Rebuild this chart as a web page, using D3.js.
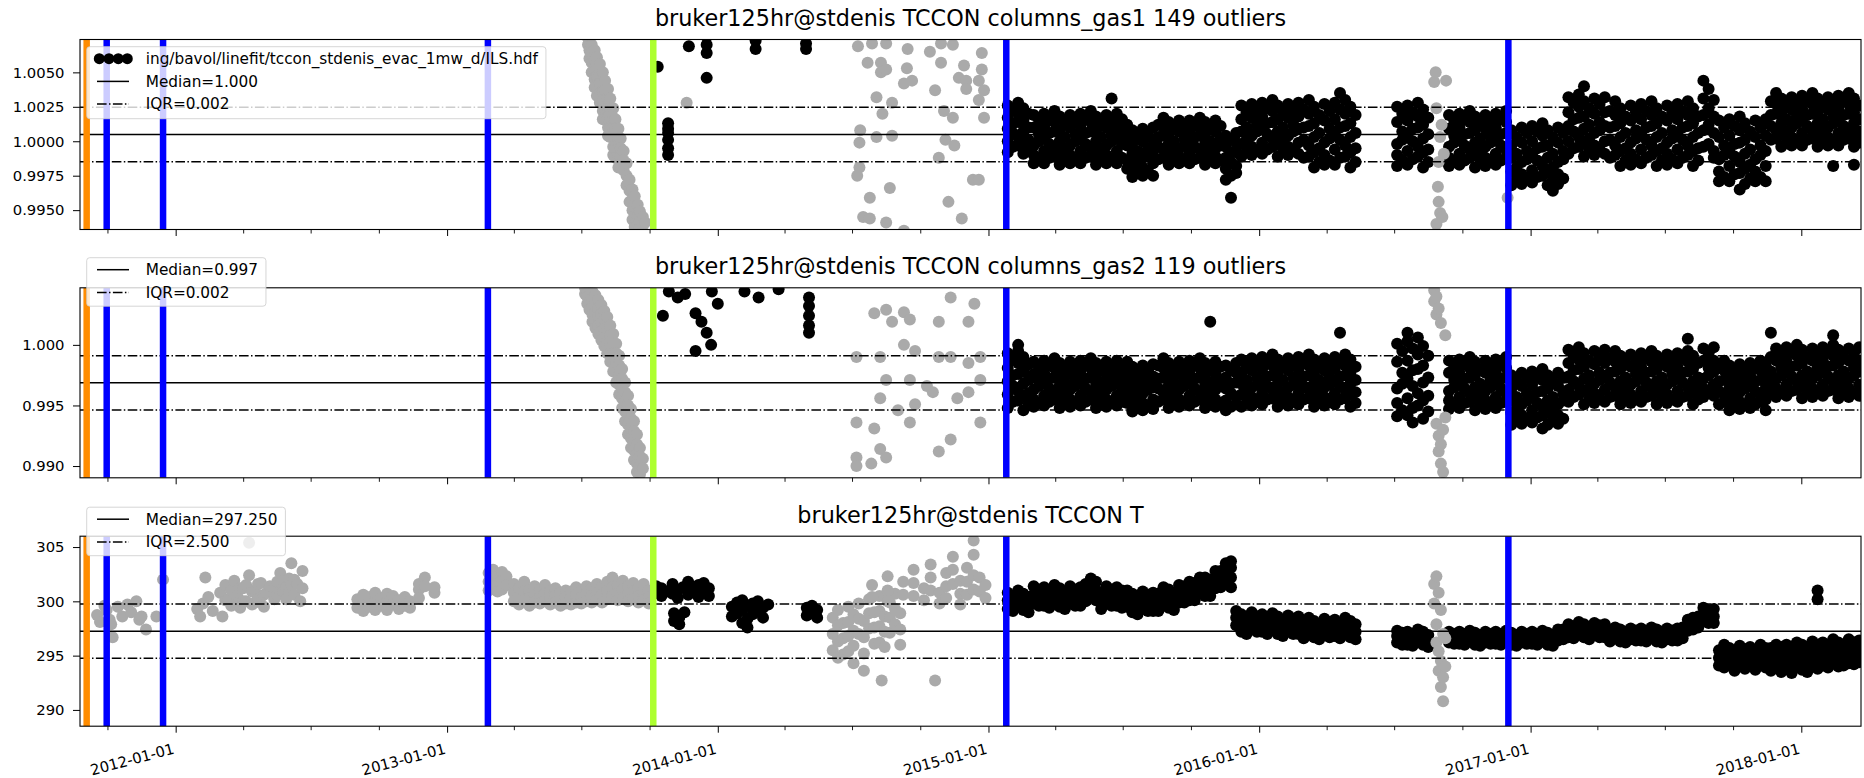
<!DOCTYPE html>
<html>
<head>
<meta charset="utf-8">
<script src="https://cdn.jsdelivr.net/npm/d3@7"></script>
<style>
  body { margin: 0; background: #fff; }
  svg { display: block; }
</style>
</head>
<body>
<svg id="chart" width="1864" height="778"></svg>
<script>
// ---------------------------------------------------------------------------
// Panel texts and statistics
// ---------------------------------------------------------------------------
const panelTitles = [
  "bruker125hr@stdenis TCCON columns_gas1 149 outliers",
  "bruker125hr@stdenis TCCON columns_gas2 119 outliers",
  "bruker125hr@stdenis TCCON T"
];
const seriesLabel = "ing/bavol/linefit/tccon_stdenis_evac_1mw_d/ILS.hdf";
const medians = [1.00049, 0.99687, 297.25];
const iqrs = [0.00197, 0.00224, 2.5];
const gas1Ticks = [0.995, 0.9975, 1.0, 1.0025, 1.005];
const gas2Ticks = [0.990, 0.995, 1.000];
const tempTicks = [290, 295, 300, 305];
const yearTicks = ["2012-01-01", "2013-01-01", "2014-01-01", "2015-01-01", "2016-01-01", "2017-01-01", "2018-01-01"];

// instrument events (vertical markers)
const orangeDates = ["2011-09-03"];
const blueDates = ["2011-09-30", "2011-12-15", "2013-02-25", "2015-01-25", "2016-12-02"];
const limeDates = ["2013-10-06"];

// ---------------------------------------------------------------------------
// Measurement days 2015-2018 and the values retained on each day
// ---------------------------------------------------------------------------
const dailyDates = [
  "2015-01-27","2015-02-03","2015-02-10","2015-02-17","2015-02-24",
  "2015-03-03","2015-03-10","2015-03-17","2015-03-24","2015-03-31","2015-04-07","2015-04-14","2015-04-21","2015-04-28",
  "2015-05-05","2015-05-12","2015-05-19","2015-05-26","2015-06-02","2015-06-09","2015-06-16","2015-06-23","2015-06-30",
  "2015-07-07","2015-07-14","2015-07-21","2015-07-28","2015-08-04","2015-08-11",
  "2015-08-18","2015-08-25","2015-09-01","2015-09-08","2015-09-15","2015-09-22","2015-09-29","2015-10-06","2015-10-13",
  "2015-10-20","2015-10-27","2015-11-03","2015-11-10",
  "2015-11-17","2015-11-24","2015-12-01",
  "2015-12-08","2015-12-15","2015-12-22","2015-12-29","2016-01-05","2016-01-12","2016-01-19","2016-01-26","2016-02-02",
  "2016-02-09","2016-02-16","2016-02-23",
  "2016-03-01","2016-03-08","2016-03-15","2016-03-22","2016-03-29","2016-04-05","2016-04-12","2016-04-19","2016-04-26",
  "2016-05-03","2016-05-10",
  "2016-07-05","2016-07-12","2016-07-19","2016-07-26","2016-08-02","2016-08-09","2016-08-16",
  "2016-09-13","2016-09-20","2016-09-27","2016-10-04","2016-10-11","2016-10-18","2016-10-25","2016-11-01","2016-11-08",
  "2016-11-15","2016-11-22","2016-11-29",
  "2016-12-06","2016-12-13","2016-12-20","2016-12-27","2017-01-03","2017-01-10","2017-01-17","2017-01-24","2017-01-31",
  "2017-02-07","2017-02-14",
  "2017-02-21","2017-02-28","2017-03-07","2017-03-14","2017-03-21","2017-03-28","2017-04-04","2017-04-11",
  "2017-04-18","2017-04-25","2017-05-02","2017-05-09","2017-05-16","2017-05-23","2017-05-30","2017-06-06","2017-06-13",
  "2017-06-20","2017-06-27","2017-07-04","2017-07-11","2017-07-18","2017-07-25","2017-08-01","2017-08-08","2017-08-15",
  "2017-08-22","2017-08-29","2017-09-05",
  "2017-09-12","2017-09-19","2017-09-26","2017-10-03","2017-10-10","2017-10-17","2017-10-24","2017-10-31","2017-11-07",
  "2017-11-14",
  "2017-11-21","2017-11-28","2017-12-05","2017-12-12","2017-12-19","2017-12-26","2018-01-02","2018-01-09","2018-01-16",
  "2018-01-23","2018-01-30","2018-02-06","2018-02-13","2018-02-20","2018-02-27","2018-03-06","2018-03-13","2018-03-20"
];

const gas1Daily = [
  // 2015-01-27 .. 2015-02-24
  [1.0026,1.0017,1.0009,1.0000,0.9992],[1.0023,1.0013,1.0006,0.9996],[1.0028,1.0020,1.0014,1.0003,0.9997],
  [1.0024,1.0015,1.0007,0.9999,0.9991],[1.0020,1.0010,1.0001,0.9994],
  // 2015-03-03 .. 2015-06-30
  [1.0019,1.0010,0.9997,0.9990,0.9984],[1.0016,1.0005,1.0000,0.9987],[1.0020,1.0011,1.0002,0.9993,0.9984],
  [1.0016,1.0006,0.9998,0.9988],[1.0022,1.0014,1.0007,0.9995,0.9989],[1.0018,1.0008,1.0000,0.9992,0.9983],
  [1.0013,1.0003,0.9994,0.9986],[1.0019,1.0010,0.9997,0.9990,0.9984],[1.0016,1.0005,1.0000,0.9987],
  [1.0020,1.0011,1.0002,0.9993,0.9984],[1.0016,1.0006,0.9998,0.9988],[1.0022,1.0014,1.0007,0.9995,0.9989],
  [1.0018,1.0008,1.0000,0.9992,0.9983],[1.0013,1.0003,0.9994,0.9986],[1.0019,1.0010,0.9997,0.9990,0.9984],
  [1.0031,1.0016,1.0005,1.0000,0.9987],[1.0020,1.0011,1.0002,0.9993,0.9984],[1.0016,1.0006,0.9998,0.9988],
  // 2015-07-07 .. 2015-08-11
  [1.0012,1.0004,0.9997,0.9986,0.9980],[1.0008,0.9999,0.9991,0.9982,0.9974],[1.0003,0.9993,0.9985,0.9977],
  [1.0009,1.0000,0.9988,0.9981,0.9975],[1.0006,0.9995,0.9990,0.9978],[1.0010,1.0001,0.9993,0.9984,0.9975],
  // 2015-08-18 .. 2015-11-10
  [1.0012,1.0003,0.9996,0.9987],[1.0017,1.0010,1.0004,0.9994,0.9988],[1.0014,1.0005,0.9998,0.9990,0.9983],
  [1.0009,1.0000,0.9993,0.9986],[1.0015,1.0007,0.9995,0.9989,0.9984],[1.0011,1.0002,0.9997,0.9986],
  [1.0015,1.0007,1.0000,0.9992,0.9984],[1.0012,1.0003,0.9996,0.9987],[1.0017,1.0010,1.0004,0.9994,0.9988],
  [1.0014,1.0005,0.9998,0.9990,0.9983],[1.0009,1.0000,0.9993,0.9986],[1.0015,1.0007,0.9995,0.9989,0.9984],
  [1.0011,1.0002,0.9997,0.9986],
  // 2015-11-17 .. 2015-12-01
  [1.0004,0.9996,0.9988,0.9980,0.9972],[1.0001,0.9992,0.9985,0.9975,0.9959],[1.0006,0.9999,0.9992,0.9982,0.9977],
  // 2015-12-08 .. 2016-02-23
  [1.0026,1.0016,1.0007,0.9998,0.9989],[1.0021,1.0010,1.0001,0.9992],[1.0027,1.0017,1.0004,0.9996,0.9990],
  [1.0023,1.0012,1.0007,0.9993],[1.0028,1.0018,1.0009,0.9999,0.9991],[1.0024,1.0013,1.0005,0.9994],
  [1.0030,1.0022,1.0014,1.0002,0.9996],[1.0026,1.0016,1.0007,0.9998,0.9989],[1.0021,1.0010,1.0001,0.9992],
  [1.0027,1.0017,1.0004,0.9996,0.9990],[1.0023,1.0012,1.0007,0.9993],[1.0028,1.0018,1.0009,0.9999,0.9991],
  // 2016-03-01 .. 2016-05-10
  [1.0023,1.0010,1.0001,0.9988],[1.0030,1.0020,1.0011,0.9997,0.9989],[1.0025,1.0013,1.0003,0.9992,0.9981],
  [1.0019,1.0006,0.9995,0.9985],[1.0027,1.0015,0.9999,0.9990,0.9983],[1.0022,1.0009,1.0002,0.9986],
  [1.0028,1.0016,1.0005,0.9994,0.9983],[1.0035,1.0023,1.0010,1.0001,0.9988],[1.0030,1.0020,1.0011,0.9997,0.9989],
  [1.0025,1.0013,1.0003,0.9992,0.9981],[1.0019,1.0006,0.9995,0.9985],
  // 2016-07-05 .. 2016-08-16
  [1.0025,1.0014,0.9998,0.9990,0.9982],[1.0020,1.0007,1.0001,0.9986],[1.0026,1.0015,1.0004,0.9993,0.9983],
  [1.0021,1.0009,1.0000,0.9987],[1.0028,1.0018,1.0010,0.9996,0.9989],[1.0023,1.0012,1.0002,0.9992,0.9981],
  [1.0017,1.0005,0.9994,0.9985],
  // 2016-09-13 .. 2016-11-29
  [1.0019,1.0009,0.9996,0.9988,0.9982],[1.0015,1.0004,0.9999,0.9985],[1.0020,1.0010,1.0001,0.9991,0.9983],
  [1.0016,1.0005,0.9997,0.9986],[1.0022,1.0014,1.0006,0.9994,0.9988],[1.0018,1.0008,0.9999,0.9990,0.9981],
  [1.0013,1.0002,0.9993,0.9984],[1.0019,1.0009,0.9996,0.9988,0.9982],[1.0015,1.0004,0.9999,0.9985],
  [1.0020,1.0010,1.0001,0.9991,0.9983],[1.0016,1.0005,0.9997,0.9986],[1.0022,1.0014,1.0006,0.9994,0.9988],
  // 2016-12-06 .. 2017-02-14
  [1.0008,0.9997,0.9988,0.9978,0.9968],[1.0003,0.9991,0.9981,0.9972],[1.0010,0.9999,0.9985,0.9976,0.9969],
  [1.0006,0.9993,0.9987,0.9973],[1.0011,1.0000,0.9990,0.9979,0.9970],[1.0007,0.9995,0.9986,0.9974],
  [1.0013,1.0004,0.9996,0.9982,0.9975],[1.0008,0.9997,0.9988,0.9978,0.9968],[1.0003,0.9991,0.9981,0.9972,0.9964],
  [1.0010,0.9999,0.9985,0.9976,0.9969],[1.0006,0.9993,0.9987,0.9973],
  // 2017-02-21 .. 2017-04-11
  [1.0032,1.0021,1.0011,1.0000,0.9991],[1.0028,1.0016,1.0007,0.9995],[1.0034,1.0025,1.0017,1.0003,0.9996],
  [1.0040,1.0029,1.0018,1.0009,0.9999,0.9989],[1.0024,1.0012,1.0002,0.9993],[1.0031,1.0020,1.0006,0.9997,0.9990],
  [1.0027,1.0014,1.0008,0.9994],[1.0032,1.0021,1.0011,1.0000,0.9991],
  // 2017-04-18 .. 2017-08-15
  [1.0022,1.0010,1.0001,0.9988],[1.0029,1.0019,1.0011,0.9997,0.9990],[1.0024,1.0013,1.0003,0.9993,0.9982],
  [1.0018,1.0006,0.9995,0.9986],[1.0026,1.0015,0.9999,0.9991,0.9983],[1.0021,1.0008,1.0002,0.9987],
  [1.0027,1.0016,1.0005,0.9994,0.9984],[1.0022,1.0010,1.0001,0.9988],[1.0029,1.0019,1.0011,0.9997,0.9990],
  [1.0024,1.0013,1.0003,0.9993,0.9982],[1.0018,1.0006,0.9995,0.9986],[1.0026,1.0015,0.9999,0.9991,0.9983],
  [1.0021,1.0008,1.0002,0.9987],[1.0027,1.0016,1.0005,0.9994,0.9984],[1.0022,1.0010,1.0001,0.9988],
  [1.0029,1.0019,1.0011,0.9997,0.9990],[1.0024,1.0013,1.0003,0.9993,0.9982],[1.0018,1.0006,0.9995,0.9986],
  // 2017-08-22 .. 2017-09-05
  [1.0044,1.0031,1.0019,1.0008,0.9996],[1.0038,1.0024,1.0012,0.9998],[1.0030,1.0018,1.0006,0.9993,0.9988],
  // 2017-09-12 .. 2017-11-14
  [1.0015,1.0003,0.9987,0.9978,0.9971],[1.0010,0.9997,0.9990,0.9974],[1.0016,1.0004,0.9993,0.9982,0.9971],
  [1.0011,0.9998,0.9989,0.9976],[1.0018,1.0008,0.9999,0.9985,0.9977,0.9965],[1.0013,1.0001,0.9991,0.9980,0.9969],
  [1.0007,0.9994,0.9983,0.9973],[1.0015,1.0003,0.9987,0.9978,0.9971],[1.0010,0.9997,0.9990,0.9974],
  [1.0016,1.0004,0.9993,0.9982,0.9971],
  // 2017-11-21 .. 2018-03-20
  [1.0029,1.0019,1.0011,1.0001],[1.0035,1.0027,1.0020,1.0008,1.0002],[1.0031,1.0021,1.0013,1.0005,0.9996],
  [1.0026,1.0016,1.0007,0.9999],[1.0032,1.0023,1.0010,1.0003,0.9997],[1.0029,1.0018,1.0013,1.0000],
  [1.0033,1.0024,1.0015,1.0006,0.9997],[1.0029,1.0019,1.0011,1.0001],[1.0035,1.0027,1.0020,1.0008,1.0002],
  [1.0031,1.0021,1.0013,1.0005,0.9996],[1.0026,1.0016,1.0007,0.9999],[1.0032,1.0023,1.0010,1.0003,0.9997],
  [1.0029,1.0018,1.0013,1.0000,0.9982],[1.0033,1.0024,1.0015,1.0006,0.9997],[1.0029,1.0019,1.0011,1.0001],
  [1.0035,1.0027,1.0020,1.0008,1.0002],[1.0031,1.0021,1.0013,1.0005,0.9996,0.9983],[1.0026,1.0016,1.0007,0.9999]
];

const gas2Daily = [
  // 2015-01-27 .. 2015-02-24
  [0.9993,0.9981,0.9970,0.9959,0.9948],[0.9988,0.9975,0.9966,0.9953],[1.0000,0.9995,0.9985,0.9976,0.9962,0.9954],
  [0.9990,0.9978,0.9968,0.9957,0.9946],[0.9984,0.9971,0.9960,0.9950],
  // 2015-03-03 .. 2015-06-30
  [0.9986,0.9976,0.9963,0.9955,0.9949],[0.9982,0.9971,0.9966,0.9952],[0.9987,0.9977,0.9968,0.9958,0.9950],
  [0.9983,0.9972,0.9964,0.9953],[0.9989,0.9981,0.9973,0.9961,0.9955],[0.9985,0.9975,0.9966,0.9957,0.9948],
  [0.9980,0.9969,0.9960,0.9951],[0.9986,0.9976,0.9963,0.9955,0.9949],[0.9982,0.9971,0.9966,0.9952],
  [0.9987,0.9977,0.9968,0.9958,0.9950],[0.9983,0.9972,0.9964,0.9953],[0.9989,0.9981,0.9973,0.9961,0.9955],
  [0.9985,0.9975,0.9966,0.9957,0.9948],[0.9980,0.9969,0.9960,0.9951],[0.9986,0.9976,0.9963,0.9955,0.9949],
  [0.9982,0.9971,0.9966,0.9952],[0.9987,0.9977,0.9968,0.9958,0.9950],[0.9983,0.9972,0.9964,0.9953],
  // 2015-07-07 .. 2015-08-11
  [0.9986,0.9978,0.9970,0.9958,0.9952],[0.9982,0.9972,0.9963,0.9954,0.9945],[0.9977,0.9966,0.9957,0.9948],
  [0.9983,0.9973,0.9960,0.9952,0.9946],[0.9979,0.9968,0.9963,0.9949],[0.9984,0.9974,0.9965,0.9955,0.9947],
  // 2015-08-18 .. 2015-11-10
  [0.9983,0.9972,0.9964,0.9953],[0.9989,0.9981,0.9973,0.9961,0.9955],[0.9985,0.9975,0.9966,0.9957,0.9948],
  [0.9980,0.9969,0.9960,0.9951],[0.9986,0.9976,0.9963,0.9955,0.9949],[0.9982,0.9971,0.9966,0.9952],
  [0.9987,0.9977,0.9968,0.9958,0.9950],[0.9983,0.9972,0.9964,0.9953],[0.9989,0.9981,0.9973,0.9961,0.9955],
  [0.9985,0.9975,0.9966,0.9957,0.9948],[1.0019,0.9980,0.9969,0.9960,0.9951],[0.9986,0.9976,0.9963,0.9955,0.9949],
  [0.9982,0.9971,0.9966,0.9952],
  // 2015-11-17 .. 2015-12-01
  [0.9983,0.9973,0.9964,0.9954,0.9946],[0.9979,0.9968,0.9960,0.9949],[0.9985,0.9977,0.9969,0.9957,0.9951],
  // 2015-12-08 .. 2016-02-23
  [0.9988,0.9977,0.9968,0.9959,0.9949],[0.9982,0.9971,0.9961,0.9952],[0.9989,0.9979,0.9965,0.9957,0.9950],
  [0.9985,0.9973,0.9967,0.9953],[0.9990,0.9980,0.9970,0.9960,0.9951],[0.9986,0.9974,0.9966,0.9955],
  [0.9992,0.9983,0.9975,0.9963,0.9956],[0.9988,0.9977,0.9968,0.9959,0.9949],[0.9982,0.9971,0.9961,0.9952],
  [0.9989,0.9979,0.9965,0.9957,0.9950],[0.9985,0.9973,0.9967,0.9953],[0.9990,0.9980,0.9970,0.9960,0.9951],
  // 2016-03-01 .. 2016-05-10
  [0.9986,0.9974,0.9966,0.9955],[0.9992,0.9983,0.9975,0.9963,0.9956],[0.9988,0.9977,0.9968,0.9959,0.9949],
  [0.9982,0.9971,0.9961,0.9952],[0.9989,0.9979,0.9965,0.9957,0.9950],[0.9985,0.9973,0.9967,0.9953],
  [0.9990,0.9980,0.9970,0.9960,0.9951],[1.0010,0.9986,0.9974,0.9966,0.9955],[0.9992,0.9983,0.9975,0.9963,0.9956],
  [0.9988,0.9977,0.9968,0.9959,0.9949],[0.9982,0.9971,0.9961,0.9952],
  // 2016-07-05 .. 2016-08-16
  [1.0001,0.9986,0.9964,0.9952,0.9941],[0.9995,0.9977,0.9968,0.9946],[1.0010,1.0003,0.9987,0.9972,0.9956,0.9942],
  [0.9997,0.9979,0.9966,0.9948,0.9936],[1.0006,0.9992,0.9980,0.9960,0.9950],[0.9999,0.9983,0.9969,0.9954,0.9939],
  [0.9991,0.9973,0.9958,0.9945],
  // 2016-09-13 .. 2016-11-29
  [0.9987,0.9977,0.9962,0.9954,0.9947],[0.9983,0.9971,0.9965,0.9950],[0.9988,0.9977,0.9968,0.9957,0.9948],
  [0.9984,0.9972,0.9964,0.9952],[0.9990,0.9981,0.9973,0.9960,0.9953],[0.9986,0.9975,0.9965,0.9956,0.9946],
  [0.9980,0.9968,0.9959,0.9950],[0.9987,0.9977,0.9962,0.9954,0.9947],[0.9983,0.9971,0.9965,0.9950],
  [0.9988,0.9977,0.9968,0.9957,0.9948],[0.9984,0.9972,0.9964,0.9952],[0.9990,0.9981,0.9973,0.9960,0.9953],
  // 2016-12-06 .. 2017-02-14
  [0.9975,0.9964,0.9954,0.9944,0.9934],[0.9970,0.9957,0.9947,0.9938],[0.9977,0.9966,0.9951,0.9942,0.9935],
  [0.9973,0.9960,0.9954,0.9939],[0.9978,0.9967,0.9957,0.9946,0.9936],[0.9973,0.9961,0.9952,0.9940],
  [0.9980,0.9971,0.9962,0.9949,0.9942,0.9931],[0.9975,0.9964,0.9954,0.9944,0.9934],[0.9970,0.9957,0.9947,0.9938],
  [0.9977,0.9966,0.9951,0.9942,0.9935],[0.9973,0.9960,0.9954,0.9939],
  // 2017-02-21 .. 2017-04-11
  [0.9996,0.9985,0.9974,0.9963,0.9953],[0.9991,0.9979,0.9970,0.9957],[0.9998,0.9988,0.9980,0.9966,0.9959],
  [0.9993,0.9982,0.9972,0.9962,0.9951],[0.9987,0.9975,0.9964,0.9955],[0.9995,0.9984,0.9968,0.9960,0.9952],
  [0.9990,0.9977,0.9971,0.9956],[0.9996,0.9985,0.9974,0.9963,0.9953],
  // 2017-04-18 .. 2017-08-15
  [0.9989,0.9977,0.9969,0.9957],[0.9995,0.9986,0.9978,0.9965,0.9958],[0.9991,0.9980,0.9970,0.9961,0.9951],
  [0.9985,0.9973,0.9964,0.9955],[0.9992,0.9982,0.9967,0.9959,0.9952],[0.9988,0.9976,0.9970,0.9955],
  [0.9993,0.9982,0.9973,0.9962,0.9953],[0.9989,0.9977,0.9969,0.9957],[0.9995,0.9986,0.9978,0.9965,0.9958],
  [0.9991,0.9980,0.9970,0.9961,0.9951],[0.9985,0.9973,0.9964,0.9955],[0.9992,0.9982,0.9967,0.9959,0.9952],
  [0.9988,0.9976,0.9970,0.9955],[0.9993,0.9982,0.9973,0.9962,0.9953],[0.9989,0.9977,0.9969,0.9957],
  [1.0005,0.9995,0.9986,0.9978,0.9965,0.9958],[0.9991,0.9980,0.9970,0.9961,0.9951],[0.9985,0.9973,0.9964,0.9955],
  // 2017-08-22 .. 2017-09-05
  [0.9997,0.9987,0.9972,0.9964,0.9957],[0.9993,0.9981,0.9975,0.9960],[0.9998,0.9987,0.9978,0.9967,0.9958],
  // 2017-09-12 .. 2017-11-14
  [0.9981,0.9970,0.9962,0.9951],[0.9987,0.9979,0.9971,0.9959,0.9953],[0.9983,0.9973,0.9964,0.9955,0.9946],
  [0.9978,0.9967,0.9958,0.9949],[0.9984,0.9974,0.9961,0.9953,0.9947],[0.9980,0.9969,0.9964,0.9950],
  [0.9985,0.9975,0.9966,0.9956,0.9948],[0.9981,0.9970,0.9962,0.9951],[0.9987,0.9979,0.9971,0.9959,0.9953],
  [0.9983,0.9973,0.9964,0.9955,0.9946],
  // 2017-11-21 .. 2018-03-20
  [1.0010,0.9990,0.9978,0.9969,0.9960],[0.9997,0.9987,0.9972,0.9964,0.9957],[0.9993,0.9981,0.9975,0.9960],
  [0.9998,0.9987,0.9978,0.9967,0.9958],[0.9994,0.9982,0.9974,0.9962],[1.0000,0.9991,0.9983,0.9970,0.9963],
  [0.9996,0.9985,0.9975,0.9966,0.9956],[0.9990,0.9978,0.9969,0.9960],[0.9997,0.9987,0.9972,0.9964,0.9957],
  [0.9993,0.9981,0.9975,0.9960],[0.9998,0.9987,0.9978,0.9967,0.9958],[0.9994,0.9982,0.9974,0.9962],
  [1.0008,1.0000,0.9991,0.9983,0.9970,0.9963],[0.9996,0.9985,0.9975,0.9966,0.9956],[0.9990,0.9978,0.9969,0.9960],
  [0.9997,0.9987,0.9972,0.9964,0.9957],[0.9993,0.9981,0.9975,0.9960],[0.9998,0.9987,0.9978,0.9967,0.9958]
];

const tempDaily = [
  // 2015-01-27 .. 2015-02-24
  [300.8,300.1,299.3],[300.5,299.8,299.1],[301.0,300.3,299.6],[300.7,300.0,299.2],[300.4,299.7,299.0],
  // 2015-03-03 .. 2015-06-30
  [301.4,300.6,299.8],[301.1,300.3,299.6],[301.3,300.5,299.6],[301.0,300.2,299.4],[301.5,300.7,300.0],
  [301.2,300.4,299.5],[300.8,300.1,299.3],[301.4,300.6,299.8],[301.1,300.3,299.6],[301.3,300.5,299.6],
  [301.6,300.8,300.0],[302.1,301.3,300.6],[301.8,301.0,300.1],[300.8,300.1,299.3],[301.4,300.6,299.8],
  [301.1,300.3,299.6],[301.3,300.5,299.6],[301.0,300.2,299.4],
  // 2015-07-07 .. 2015-08-11
  [301.0,300.2,299.5],[300.7,299.9,299.0],[300.3,299.6,298.8],[300.9,300.1,299.3],[300.6,299.8,299.1],
  [300.8,300.0,299.1],
  // 2015-08-18 .. 2015-11-10
  [300.7,299.9,299.1],[301.3,300.5,299.8],[301.1,300.3,299.4],[300.7,300.0,299.2],[301.5,300.7,299.9],
  [301.4,300.6,299.9],[301.8,301.0,300.1],[301.7,300.9,300.1],[302.2,301.4,300.7],[302.2,301.4,300.5],
  [302.0,301.3,300.5],[302.8,302.0,301.2],[302.8,302.0,301.3],
  // 2015-11-17 .. 2015-12-01
  [303.5,302.6,301.6],[303.7,303.1,302.2,301.3],[299.1,298.5,297.8],
  // 2015-12-08 .. 2016-02-23
  [298.8,298.0,297.2],[298.5,297.7,297.0],[299.0,298.3,297.5],[298.6,297.9,297.2],[298.8,298.1,297.2],
  [298.5,297.7,297.0],[298.9,298.2,297.4],[298.6,297.8,297.0],[298.3,297.5,296.8],[298.7,298.0,297.2],
  [298.4,297.7,297.0],[298.6,297.9,297.0],
  // 2016-03-01 .. 2016-05-10
  [298.0,297.3,296.6],[298.5,297.8,297.1],[298.2,297.5,296.7],[297.9,297.2,296.5],[298.4,297.7,296.9],
  [298.1,297.4,296.7],[298.3,297.6,296.8],[298.0,297.3,296.6],[298.5,297.8,297.1],[298.2,297.5,296.7],
  [297.9,297.2,296.5],
  // 2016-07-05 .. 2016-08-16
  [297.3,296.8,296.2],[297.1,296.5,296.0],[297.2,296.7,296.0],[297.0,296.4,295.9],[297.4,296.8,296.3],
  [297.2,296.6,296.0],[296.9,296.4,295.8],
  // 2016-09-13 .. 2016-11-29
  [297.2,296.7,296.2],[297.0,296.5,296.1],[297.2,296.7,296.1],[297.0,296.5,296.0],[297.3,296.8,296.3],
  [297.1,296.6,296.0],[296.9,296.4,295.9],[297.2,296.7,296.2],[297.0,296.5,296.1],[297.2,296.7,296.1],
  [297.0,296.5,296.0],[297.3,296.8,296.3],
  // 2016-12-06 .. 2017-02-14
  [297.1,296.6,296.0],[296.9,296.4,295.9],[297.2,296.7,296.2],[297.0,296.5,296.1],[297.2,296.7,296.1],
  [297.0,296.5,296.0],[297.3,296.8,296.3],[297.1,296.6,296.0],[296.9,296.4,295.9],[297.4,296.9,296.4],
  [297.4,296.9,296.5],
  // 2017-02-21 .. 2017-04-11
  [297.9,297.4,296.7],[297.7,297.1,296.6],[298.1,297.5,297.0],[297.9,297.3,296.7],[297.6,297.1,296.5],
  [298.0,297.5,296.9],[297.8,297.2,296.7],[297.9,297.4,296.7],
  // 2017-04-18 .. 2017-08-15
  [297.3,296.8,296.3],[297.6,297.1,296.6],[297.4,296.9,296.3],[297.2,296.7,296.2],[297.5,297.0,296.5],
  [297.3,296.8,296.4],[297.5,297.0,296.4],[297.3,296.8,296.3],[297.6,297.1,296.6],[297.4,296.9,296.3],
  [297.2,296.7,296.2],[297.5,297.0,296.5],[297.3,296.8,296.4],[297.5,297.0,296.4],[297.6,297.1,296.6],
  [298.3,297.8,297.3],[298.5,298.0,297.4],[298.6,298.1,297.6],
  // 2017-08-22 .. 2017-09-05
  [299.4,298.8,298.2],[299.2,298.6,298.0],[299.3,298.6,298.0],
  // 2017-09-12 .. 2017-11-14
  [295.5,294.8,294.1],[296.0,295.3,294.6,293.9],[295.7,295.0,294.2],[295.4,294.7,294.0,293.6],[295.9,295.2,294.4],
  [295.6,294.9,294.2,293.8],[295.8,295.1,294.3],[295.5,294.8,294.1,293.7],[296.0,295.3,294.6],[295.7,295.0,294.2,293.9],
  // 2017-11-21 .. 2018-03-20
  [295.7,295.0,294.3,293.6],[296.0,295.3,294.6,293.9],[295.8,295.1,294.4,293.5],[296.0,295.3,294.5,293.8],
  [295.8,295.0,294.3,293.4],[296.2,295.5,294.8,294.0],[296.0,295.3,294.5,293.7],[295.8,295.1,294.4,293.5],
  [296.3,295.6,294.8,294.0],[301.0,300.2,296.0,295.3,294.6,293.8],[296.2,295.5,294.8,294.1],[296.0,295.3,294.6,293.9],
  [296.5,295.8,295.1,294.3],[296.2,295.5,294.8,294.0],[296.0,295.4,294.7,294.1],[296.5,295.8,295.0,294.3],
  [296.2,295.6,294.9,294.2],[296.4,295.8,295.0,294.4]
];

// ---------------------------------------------------------------------------
// Earlier retained points and flagged outliers, as [day, values]
// ---------------------------------------------------------------------------
const gas1Early = [
  ["2013-10-12",[1.0054]], ["2013-10-26",[1.0013,1.0009,1.0006,1.0001,0.9995,0.9990]],
  ["2013-11-23",[1.0069]], ["2013-12-17",[1.0076,1.0070,1.0064,1.0046]],
  ["2014-02-21",[1.0073,1.0067]], ["2014-04-30",[1.0071,1.0067]]
];
const gas2Early = [
  ["2013-10-19",[1.0024]], ["2013-10-27",[1.0044]], ["2013-11-08",[1.0039]], ["2013-11-18",[1.0042]],
  ["2013-12-02",[1.0026,0.9995]], ["2013-12-10",[1.0019]], ["2013-12-17",[1.0010]], ["2013-12-23",[1.0000]],
  ["2013-12-24",[1.0044]], ["2014-01-01",[1.0034]], ["2014-02-06",[1.0044]], ["2014-02-25",[1.0039]],
  ["2014-03-24",[1.0046]], ["2014-05-04",[1.0039,1.0032,1.0024,1.0016,1.0010]]
];
const tempEarly = [
  ["2013-10-10",[300.8,301.4]], ["2013-10-17",[300.5,301.2]], ["2013-10-24",[300.9]], ["2013-11-01",[301.6,300.7]],
  ["2013-11-03",[298.9,298.2]], ["2013-11-08",[301.0,300.3]], ["2013-11-10",[298.5,297.9]], ["2013-11-15",[301.3]],
  ["2013-11-17",[299.0]], ["2013-11-22",[300.6,301.8]], ["2013-11-29",[301.1]], ["2013-12-06",[300.4,301.5]],
  ["2013-12-13",[300.9,301.7]], ["2013-12-20",[301.2,300.5]],
  ["2014-01-20",[299.5,298.6]], ["2014-01-27",[299.9,298.9]], ["2014-02-03",[300.1,299.2,298.0]],
  ["2014-02-10",[299.6,298.4,297.6]], ["2014-02-17",[299.8,298.8]], ["2014-02-24",[300.0,299.1]],
  ["2014-03-03",[299.4,298.5]], ["2014-03-10",[299.7]],
  ["2014-05-01",[299.4,298.7]], ["2014-05-08",[299.6,298.9]], ["2014-05-15",[299.2,298.5]]
];

const gas1Outliers = [
  ["2013-07-10",[1.0075,1.0070]], ["2013-07-12",[1.0072,1.0066,1.0060]], ["2013-07-15",[1.0070,1.0064,1.0057,1.0050]],
  ["2013-07-19",[1.0066,1.0059,1.0052,1.0045,1.0039]], ["2013-07-22",[1.0061,1.0054,1.0047,1.0040,1.0033]],
  ["2013-07-26",[1.0056,1.0049,1.0042,1.0035,1.0028]], ["2013-07-30",[1.0050,1.0043,1.0036,1.0029,1.0022,1.0016]],
  ["2013-08-02",[1.0044,1.0037,1.0030,1.0023,1.0016]], ["2013-08-06",[1.0038,1.0031,1.0024,1.0017,1.0010,1.0004]],
  ["2013-08-09",[1.0031,1.0024,1.0017,1.0010,1.0003]], ["2013-08-13",[1.0024,1.0017,1.0010,1.0003,0.9996,0.9990]],
  ["2013-08-16",[1.0016,1.0009,1.0002,0.9995,0.9988]], ["2013-08-20",[1.0009,1.0002,0.9995,0.9988,0.9981]],
  ["2013-08-23",[1.0002,0.9995,0.9988,0.9981]], ["2013-08-27",[0.9993,0.9986,0.9979]],
  ["2013-08-31",[0.9984,0.9975,0.9968]], ["2013-09-04",[0.9972,0.9964,0.9956]],
  ["2013-09-08",[0.9965,0.9958,0.9950,0.9943]], ["2013-09-11",[0.9960,0.9952,0.9945,0.9938]],
  ["2013-09-15",[0.9954,0.9946,0.9939]], ["2013-09-18",[0.9949,0.9942,0.9937]], ["2013-09-22",[0.9945,0.9939]],
  ["2013-09-25",[0.9941]], ["2013-11-20",[1.0028]],
  ["2014-07-08",[0.9975]], ["2014-07-09",[1.0069]], ["2014-07-11",[0.9999,0.9981]], ["2014-07-12",[1.0008]],
  ["2014-07-16",[0.9945]], ["2014-07-22",[1.0057]], ["2014-07-25",[0.9959,0.9944]], ["2014-07-28",[1.0071]],
  ["2014-08-03",[1.0032,1.0003]], ["2014-08-09",[1.0057,1.0050]], ["2014-08-11",[1.0020]],
  ["2014-08-16",[1.0071,1.0052,0.9941]], ["2014-08-21",[0.9966]], ["2014-08-24",[1.0028,1.0004]],
  ["2014-09-09",[1.0042,0.9935]], ["2014-09-13",[1.0053]], ["2014-09-14",[1.0067]], ["2014-09-20",[1.0044]],
  ["2014-10-14",[1.0065]], ["2014-10-21",[1.0037]], ["2014-10-26",[0.9988]], ["2014-10-29",[1.0057,1.0071]],
  ["2014-11-02",[1.0022]], ["2014-11-04",[1.0001]], ["2014-11-08",[0.9956]], ["2014-11-14",[1.0070,1.0017]],
  ["2014-11-16",[0.9997]], ["2014-11-22",[1.0046]], ["2014-11-26",[0.9944]], ["2014-11-29",[1.0055]],
  ["2014-12-02",[1.0044,1.0038]], ["2014-12-11",[0.9972]], ["2014-12-19",[1.0044,1.0030,0.9972]],
  ["2014-12-23",[1.0064,1.0052]], ["2014-12-26",[1.0037,1.0017]],
  ["2016-08-24",[1.0043]], ["2016-08-26",[1.0050]], ["2016-08-27",[1.0024,0.9940]], ["2016-08-29",[0.9967]],
  ["2016-08-30",[0.9985,0.9956]], ["2016-09-01",[1.0003,0.9948]], ["2016-09-03",[1.0012]], ["2016-09-04",[0.9945]],
  ["2016-09-06",[0.9991]], ["2016-09-09",[1.0044]], ["2016-12-01",[0.9959]]
];

const gas2Outliers = [
  ["2013-07-06",[1.0047,1.0042]], ["2013-07-09",[1.0046,1.0040,1.0034]], ["2013-07-12",[1.0047,1.0041,1.0035,1.0029]],
  ["2013-07-16",[1.0044,1.0038,1.0031,1.0025,1.0019]], ["2013-07-20",[1.0041,1.0034,1.0027,1.0020,1.0014]],
  ["2013-07-24",[1.0037,1.0030,1.0023,1.0016,1.0009]], ["2013-07-28",[1.0033,1.0026,1.0018,1.0011,1.0004]],
  ["2013-08-01",[1.0028,1.0021,1.0013,1.0006,0.9999]], ["2013-08-05",[1.0023,1.0015,1.0008,1.0000,0.9993]],
  ["2013-08-09",[1.0016,1.0008,1.0001,0.9993,0.9986]], ["2013-08-13",[1.0009,1.0001,0.9993,0.9985,0.9978]],
  ["2013-08-17",[1.0001,0.9993,0.9985,0.9977,0.9969]], ["2013-08-21",[0.9991,0.9983,0.9975,0.9967,0.9959]],
  ["2013-08-25",[0.9980,0.9972,0.9964,0.9956,0.9948]], ["2013-08-29",[0.9969,0.9961,0.9953,0.9945,0.9937]],
  ["2013-09-02",[0.9958,0.9950,0.9942,0.9934,0.9926]], ["2013-09-06",[0.9947,0.9939,0.9931,0.9923,0.9915]],
  ["2013-09-10",[0.9937,0.9929,0.9921,0.9913,0.9905]], ["2013-09-14",[0.9926,0.9918,0.9910,0.9902,0.9895]],
  ["2013-09-18",[0.9915,0.9908,0.9900,0.9893]], ["2013-09-22",[0.9906,0.9898]],
  ["2014-07-07",[0.9990,0.9936,0.9907,0.9900]], ["2014-07-27",[0.9902]], ["2014-07-31",[1.0026,0.9931]],
  ["2014-08-08",[0.9990,0.9956,0.9914]], ["2014-08-16",[1.0029,0.9971,0.9907]], ["2014-08-24",[1.0019]],
  ["2014-09-01",[0.9946]], ["2014-09-09",[1.0027,1.0000]], ["2014-09-17",[1.0021,0.9971,0.9936]],
  ["2014-09-24",[0.9995,0.9951]], ["2014-10-10",[0.9966]], ["2014-10-18",[0.9961]],
  ["2014-10-26",[1.0019,0.9990,0.9912]], ["2014-11-11",[1.0039,0.9990,0.9922]], ["2014-11-20",[0.9956]],
  ["2014-12-05",[1.0019,0.9985,0.9961]], ["2014-12-13",[1.0034]], ["2014-12-21",[0.9990,0.9971,0.9936]],
  ["2016-08-24",[1.0045,1.0036]], ["2016-08-27",[1.0040,1.0025,0.9935]], ["2016-08-30",[1.0030,0.9925,0.9912]],
  ["2016-09-02",[1.0018,0.9918,0.9902]], ["2016-09-05",[0.9930,0.9895]], ["2016-09-08",[1.0008,0.9940]]
];

const tempOutliers = [
  ["2011-09-17",[298.75]], ["2011-09-21",[298.1]], ["2011-09-27",[299.6]], ["2011-09-30",[299.2]],
  ["2011-10-04",[298.3]], ["2011-10-06",[297.9]], ["2011-10-08",[296.7]], ["2011-10-15",[299.5]],
  ["2011-10-21",[298.6]], ["2011-10-28",[299.7]], ["2011-11-02",[299.0]], ["2011-11-09",[300.0]],
  ["2011-11-13",[298.3]], ["2011-11-16",[298.6]], ["2011-11-22",[297.4]], ["2011-12-06",[298.6]],
  ["2011-12-15",[302.0]],
  ["2012-01-30",[299.3]], ["2012-02-03",[298.6]], ["2012-02-07",[299.8]], ["2012-02-10",[302.2]],
  ["2012-02-14",[300.4]], ["2012-02-20",[299.1]], ["2012-03-01",[300.8]], ["2012-03-04",[298.6]],
  ["2012-03-08",[301.5,300.1]], ["2012-03-12",[300.2]], ["2012-03-16",[299.6,301.0]], ["2012-03-20",[301.9]],
  ["2012-03-24",[300.5,299.8]], ["2012-03-28",[299.4,301.2]], ["2012-04-01",[301.2,300.0]], ["2012-04-05",[300.0,301.5]],
  ["2012-04-09",[302.4,305.4]], ["2012-04-13",[299.7,300.9]], ["2012-04-17",[301.0,299.9]], ["2012-04-21",[300.3,301.6]],
  ["2012-04-25",[301.7,300.4]], ["2012-04-29",[299.5,300.6]], ["2012-05-03",[300.8]], ["2012-05-07",[301.4]],
  ["2012-05-13",[300.2,301.2]], ["2012-05-17",[301.8,300.6]], ["2012-05-21",[302.6,301.0]], ["2012-05-25",[300.9,301.9]],
  ["2012-05-29",[301.3,300.2]], ["2012-06-02",[302.1,300.8]], ["2012-06-05",[303.5,301.5]], ["2012-06-09",[300.6,302.0]],
  ["2012-06-13",[301.6]], ["2012-06-17",[300.0]], ["2012-06-20",[302.8,301.2]],
  ["2012-09-02",[300.2,299.4]], ["2012-09-10",[299.8,299.1,300.6]], ["2012-09-18",[300.4,299.5]],
  ["2012-09-26",[300.0,299.2,300.8]], ["2012-10-04",[300.3,299.6]], ["2012-10-12",[299.9,300.7,299.2]],
  ["2012-10-20",[300.5,299.7]], ["2012-10-28",[300.1,299.3]], ["2012-11-05",[300.4,299.6]], ["2012-11-12",[300.0,299.4]],
  ["2012-11-24",[301.1,300.3,301.6]], ["2012-12-02",[302.2,301.4]], ["2012-12-15",[300.8,301.3]],
  ["2013-02-26",[302.6,301.8,301.0]], ["2013-03-04",[302.9,302.0,301.2]], ["2013-03-10",[302.4,301.6,300.9]],
  ["2013-03-16",[302.7,301.9,301.1]], ["2013-03-22",[302.3,301.5]],
  ["2013-04-01",[301.6,300.8,300.0]], ["2013-04-08",[301.2,300.4,299.7]], ["2013-04-15",[301.8,300.9,300.1]],
  ["2013-04-22",[301.0,300.3,299.6]], ["2013-04-29",[301.4,300.6,299.9]], ["2013-05-06",[301.1,300.4,299.8]],
  ["2013-05-13",[301.5,300.7,300.0]], ["2013-05-20",[300.9,300.3,299.7]], ["2013-05-27",[301.2,300.5,299.9]],
  ["2013-06-03",[300.8,300.2,299.6]], ["2013-06-10",[301.0,300.4,299.8]], ["2013-06-17",[300.9,300.3,299.7]],
  ["2013-06-24",[301.3,300.6,299.9]], ["2013-07-01",[301.0,300.4,299.8]], ["2013-07-08",[301.4,300.7,300.0]],
  ["2013-07-15",[301.2,300.5,299.9]], ["2013-07-22",[301.6,300.8,300.1]], ["2013-07-29",[301.3,300.6,299.9]],
  ["2013-08-05",[301.8,301.0,300.2]], ["2013-08-12",[302.2,301.3,300.5]], ["2013-08-19",[301.5,300.8,300.1]],
  ["2013-08-26",[301.9,301.1,300.3]], ["2013-09-02",[301.4,300.7,300.0]], ["2013-09-09",[301.7,300.9,300.2]],
  ["2013-09-16",[301.2,300.5,299.9]], ["2013-09-23",[301.6,300.8,300.1]], ["2013-09-30",[301.0,300.4,299.8]],
  ["2014-06-05",[298.5,297.0,295.5]], ["2014-06-12",[299.2,297.8,296.3,294.8]], ["2014-06-19",[298.0,296.6,295.1]],
  ["2014-06-26",[299.5,298.1,296.8,295.4]], ["2014-07-03",[298.8,297.3,295.9,294.3]], ["2014-07-10",[299.8,298.4,297.0]],
  ["2014-07-17",[298.2,296.7,295.2,293.6]], ["2014-07-24",[300.2,298.9,297.5]], ["2014-07-31",[299.0,297.6,296.1]],
  ["2014-08-07",[300.5,299.1,297.7,296.2]], ["2014-08-10",[292.7]], ["2014-08-14",[298.6,297.2,295.8]],
  ["2014-08-21",[299.9,298.5,297.1]], ["2014-08-28",[300.7,299.3,297.9]], ["2014-09-04",[298.9,297.4,296.0]],
  ["2014-07-28",[301.5,300.4]], ["2014-08-18",[302.3,301.0,300.0]], ["2014-09-08",[301.8,300.6]],
  ["2014-09-22",[302.9,301.7,300.5]], ["2014-10-06",[301.2,300.1]], ["2014-10-15",[303.4,302.2,301.0]],
  ["2014-10-21",[292.7]], ["2014-10-27",[300.8,299.8]], ["2014-11-05",[302.6,301.4,300.3]],
  ["2014-11-14",[304.1,302.9,301.6]], ["2014-11-24",[301.9,300.7,299.7]], ["2014-12-03",[303.1,301.8,300.6]],
  ["2014-12-12",[305.6,304.3,302.4,301.1]], ["2014-12-20",[302.2,300.9]], ["2014-12-28",[301.5,300.3]],
  ["2016-08-24",[301.6,299.8]], ["2016-08-27",[302.3,297.9,296.2]], ["2016-08-30",[300.8,295.4,293.6]],
  ["2016-09-02",[299.2,294.5,292.1]], ["2016-09-05",[297.0,293.0,290.8]], ["2016-09-08",[296.6,294.0]]
];

// ---------------------------------------------------------------------------
// Drawing
// ---------------------------------------------------------------------------
const FONT = "DejaVu Sans, Liberation Sans, sans-serif";
const svg = d3.select("#chart");
const left = 80, right = 1861;
const panelTops = [39.5, 287.8, 536.2];
const panelH = 190;
const legendOffsets = [7.2, -30.1, -29.0];
const dotR = 6;

const parseDay = d3.utcParse("%Y-%m-%d");
const x = d3.scaleUtc()
  .domain([d3.isoParse("2011-08-25T00:00:00Z"), d3.isoParse("2018-03-22T12:00:00Z")])
  .range([left, right]);

const explode = (dates, values) => dates.flatMap((d, i) => values[i].map(v => ({ date: parseDay(d), value: v })));
const explodeRows = rows => rows.flatMap(([d, vals]) => vals.map(v => ({ date: parseDay(d), value: v })));

const panels = [
  { title: panelTitles[0], median: medians[0], iqr: iqrs[0], ticks: gas1Ticks, format: ".4f",
    good: explode(dailyDates, gas1Daily).concat(explodeRows(gas1Early)), out: explodeRows(gas1Outliers), showSeries: true },
  { title: panelTitles[1], median: medians[1], iqr: iqrs[1], ticks: gas2Ticks, format: ".3f",
    good: explode(dailyDates, gas2Daily).concat(explodeRows(gas2Early)), out: explodeRows(gas2Outliers), showSeries: false },
  { title: panelTitles[2], median: medians[2], iqr: iqrs[2], ticks: tempTicks, format: "d",
    good: explode(dailyDates, tempDaily).concat(explodeRows(tempEarly)), out: explodeRows(tempOutliers), showSeries: false }
];

const majorTicks = yearTicks.map(parseDay);
const minorTicks = d3.utcMonth.every(3).range(x.domain()[0], x.domain()[1]).filter(d => d.getUTCMonth() !== 0);
const eventLines = [
  ...orangeDates.map(d => ({ date: parseDay(d), color: "#ff8c00" })),
  ...blueDates.map(d => ({ date: parseDay(d), color: "#0000ff" })),
  ...limeDates.map(d => ({ date: parseDay(d), color: "#adff2f" }))
];
const dashDot = "9.6,2.4,1.5,2.4";

panels.forEach((p, i) => {
  const top = panelTops[i], bottom = top + panelH;
  const y = d3.scaleLinear()
    .domain([p.median - 3.5 * p.iqr, p.median + 3.5 * p.iqr])
    .range([bottom, top]);

  const g = svg.append("g");
  const clipId = "plot-clip-" + i;
  svg.append("clipPath").attr("id", clipId)
    .append("rect").attr("x", left).attr("y", top).attr("width", right - left).attr("height", panelH);
  const plot = g.append("g").attr("clip-path", `url(#${clipId})`);

  // retained measurements
  plot.append("g").selectAll("circle").data(p.good).join("circle")
    .attr("cx", d => x(d.date)).attr("cy", d => y(d.value)).attr("r", dotR).attr("fill", "#000");
  // flagged outliers
  plot.append("g").selectAll("circle").data(p.out).join("circle")
    .attr("cx", d => x(d.date)).attr("cy", d => y(d.value)).attr("r", dotR).attr("fill", "#aaaaaa");

  // median and median ± IQR
  const refs = [
    { v: p.median, dash: null },
    { v: p.median + p.iqr, dash: dashDot },
    { v: p.median - p.iqr, dash: dashDot }
  ];
  plot.append("g").selectAll("line").data(refs).join("line")
    .attr("x1", left).attr("x2", right)
    .attr("y1", d => y(d.v)).attr("y2", d => y(d.v))
    .attr("stroke", "#000").attr("stroke-width", 1.5)
    .attr("stroke-dasharray", d => d.dash);

  // instrument events
  plot.append("g").selectAll("line").data(eventLines).join("line")
    .attr("x1", d => x(d.date)).attr("x2", d => x(d.date))
    .attr("y1", top).attr("y2", bottom)
    .attr("stroke", d => d.color).attr("stroke-width", 6.5);

  // y axis
  const ya = g.append("g").attr("transform", `translate(${left},0)`)
    .call(d3.axisLeft(y).tickValues(p.ticks).tickFormat(d3.format(p.format)).tickSize(7).tickPadding(8.5));
  ya.select(".domain").remove();
  ya.attr("font-family", FONT).attr("font-size", 14.8);
  ya.selectAll("line").attr("stroke", "#000").attr("stroke-width", 1);
  ya.selectAll("text").attr("fill", "#000");

  // x axis: yearly major ticks, quarterly minor ticks
  const xa = g.append("g").attr("transform", `translate(0,${bottom})`)
    .call(d3.axisBottom(x).tickValues(majorTicks).tickSize(6.5)
      .tickFormat(i === 2 ? d3.utcFormat("%Y-%m-%d") : () => ""));
  xa.select(".domain").remove();
  xa.attr("font-family", FONT).attr("font-size", 14.8);
  xa.selectAll("line").attr("stroke", "#000").attr("stroke-width", 1);
  xa.selectAll("text")
    .attr("fill", "#000").attr("x", 0).attr("y", 0).attr("dy", null)
    .attr("text-anchor", "end")
    .attr("transform", "translate(-1,27) rotate(-15)");
  const xm = g.append("g").attr("transform", `translate(0,${bottom})`)
    .call(d3.axisBottom(x).tickValues(minorTicks).tickSize(4).tickFormat(() => ""));
  xm.select(".domain").remove();
  xm.selectAll("line").attr("stroke", "#000").attr("stroke-width", 0.9);

  // frame
  g.append("rect").attr("x", left).attr("y", top).attr("width", right - left).attr("height", panelH)
    .attr("fill", "none").attr("stroke", "#000").attr("stroke-width", 1.1);

  // title
  g.append("text").attr("x", (left + right) / 2).attr("y", top - 13.5)
    .attr("text-anchor", "middle").attr("font-family", FONT).attr("font-size", 22.3).attr("fill", "#000")
    .text(p.title);

  // legend
  const entries = [];
  if (p.showSeries) entries.push({ kind: "dots", label: seriesLabel });
  entries.push({ kind: "solid", label: "Median=" + p.median.toFixed(3) });
  entries.push({ kind: "dashdot", label: "IQR=" + p.iqr.toFixed(3) });

  const lg = svg.append("g").attr("transform", `translate(86.7,${top + legendOffsets[i]})`);
  const frame = lg.append("rect").attr("rx", 3).attr("ry", 3)
    .attr("fill", "#fff").attr("fill-opacity", 0.8)
    .attr("stroke", "#cccccc").attr("stroke-opacity", 0.8).attr("stroke-width", 1);
  let maxLen = 0;
  entries.forEach((e, k) => {
    const cy = 12 + k * 22.7;
    if (e.kind === "dots") {
      lg.append("g").selectAll("circle").data([12.6, 22.3, 31.6, 40.6]).join("circle")
        .attr("cx", d => d).attr("cy", cy).attr("r", 5.5).attr("fill", "#000");
    } else {
      lg.append("line").attr("x1", 10.3).attr("x2", 42.3).attr("y1", cy).attr("y2", cy)
        .attr("stroke", "#000").attr("stroke-width", 1.5)
        .attr("stroke-dasharray", e.kind === "dashdot" ? dashDot : null);
    }
    const t = lg.append("text").attr("x", 59).attr("y", cy + 5.4)
      .attr("font-family", FONT).attr("font-size", 15.3).attr("fill", "#000").text(e.label);
    maxLen = Math.max(maxLen, t.node().getComputedTextLength());
  });
  frame.attr("x", 0).attr("y", 0).attr("width", 59 + maxLen + 8).attr("height", entries.length * 23.5 + 1.5);
});
</script>
</body>
</html>
